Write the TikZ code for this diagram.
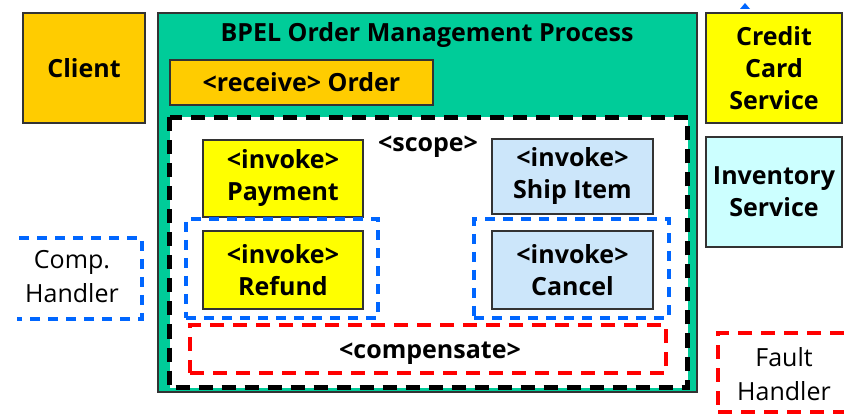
\documentclass[tikz,border=0pt]{standalone}
\usepackage{fontspec}
\setmainfont{Open Sans}
\usetikzlibrary{arrows.meta}

\definecolor{clientorange}{HTML}{FFCC00}
\definecolor{bpelgreen}{HTML}{00CC99}
\definecolor{invokeyellow}{HTML}{FFFF00}
\definecolor{invokeblue}{HTML}{CCE6FA}
\definecolor{servicecyan}{HTML}{CCFFFF}
\definecolor{handlerblue}{HTML}{0066FF}
\definecolor{handlerred}{HTML}{FF0000}
\definecolor{edgegray}{HTML}{333333}

\tikzset{
  lbl/.style={font=\bfseries\fontsize{25}{32}\selectfont, align=center, inner sep=0pt},
  legendlbl/.style={font=\fontsize{25}{34}\selectfont, align=center, inner sep=0pt},
  solidbox/.style={draw=edgegray, line width=1.4pt, inner sep=0pt, align=center,
    font=\bfseries\fontsize{25}{32}\selectfont},
  scopeline/.style={draw=black, line width=5pt, dash pattern=on 14pt off 9pt},
  bluedash/.style={draw=handlerblue, line width=4pt, dash pattern=on 10pt off 8pt},
  reddash/.style={draw=handlerred, line width=4pt, dash pattern=on 14pt off 9pt},
}

\begin{document}
\begin{tikzpicture}[x=1pt, y=-1pt]
\useasboundingbox (0,0) rectangle (844,414);
\clip (0,0) rectangle (844,414);

% partner services and client
\node[solidbox, fill=clientorange, minimum width=122pt, minimum height=110pt] (client) at (84,68) {Client};
\node[solidbox, fill=invokeyellow, minimum width=136pt, minimum height=110pt] (credit) at (774,68) {Credit\\Card\\Service};
\node[solidbox, fill=servicecyan, minimum width=136pt, minimum height=110pt] (inventory) at (774,192) {Inventory\\Service};

% the BPEL process
\node[solidbox, fill=bpelgreen, minimum width=539pt, minimum height=379pt] (bpel) at (427.5,202.5) {};
\node[lbl] (title) at (427,35) {BPEL Order Management Process};
\node[solidbox, fill=clientorange, minimum width=263pt, minimum height=45pt] (receive) at (301.5,82.5) {<receive> Order};

% scope
\node[draw=white, fill=white, line width=5pt, minimum width=513pt, minimum height=265pt, inner sep=0pt] (scope) at (428.5,252.5) {};
\draw[scopeline] (scope.north west) rectangle (scope.south east);
\node[lbl] (scopelbl) at (428,147) {<scope>};

\node[solidbox, fill=invokeyellow, minimum width=160pt, minimum height=77pt] (payment) at (283,178.5) {<invoke>\\Payment};
\node[solidbox, fill=invokeblue, minimum width=161pt, minimum height=75pt] (ship) at (572.5,176.5) {<invoke>\\Ship Item};

\node[bluedash, minimum width=192pt, minimum height=99pt, inner sep=0pt] (refundhandler) at (282,268.5) {};
\node[solidbox, fill=invokeyellow, minimum width=160pt, minimum height=78pt] (refund) at (283,270) {<invoke>\\Refund};
\node[bluedash, minimum width=195pt, minimum height=99pt, inner sep=0pt] (cancelhandler) at (571.5,268.5) {};
\node[solidbox, fill=invokeblue, minimum width=161pt, minimum height=78pt] (cancel) at (572.5,270) {<invoke>\\Cancel};

\node[reddash, minimum width=476pt, minimum height=48pt, inner sep=0pt] (compensate) at (428,349) {};
\node[lbl] (compensatelbl) at (430,353) {<compensate>};

% legend: compensation handler (open on the left) and fault handler
\coordinate (chA) at (19,238);
\coordinate (chB) at (142,238);
\coordinate (chC) at (142,319);
\coordinate (chD) at (17,319);
\draw[bluedash] (chA) -- (chB) -- (chC) -- (chD);
\node[legendlbl] (chlbl) at (72,277) {Comp.\\Handler};

\node[reddash, minimum width=150pt, minimum height=79pt, inner sep=0pt] (fault) at (793,372.5) {};
\node[legendlbl] (faultlbl) at (784,374) {Fault\\Handler};

% arrow tip above the credit card service
\fill[handlerblue] (740,9) -- (745,3) -- (750,9) -- cycle;
\end{tikzpicture}
\end{document}
